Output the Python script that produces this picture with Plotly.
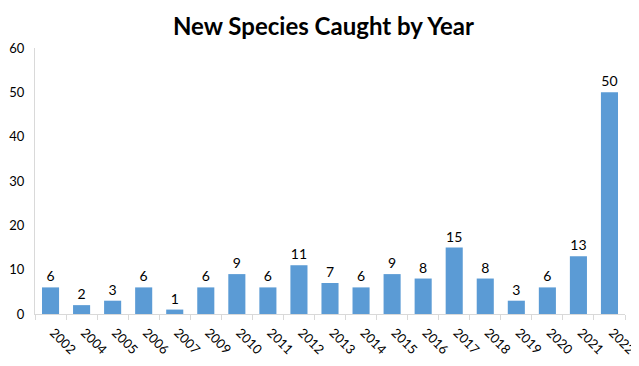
import plotly.graph_objects as go

years = ["2002","2004","2005","2006","2007","2009","2010","2011","2012","2013",
         "2014","2015","2016","2017","2018","2019","2020","2021","2022"]
counts = [6,2,3,6,1,6,9,6,11,7,6,9,8,15,8,3,6,13,50]

# page body has an 8px default margin, so the figure is drawn 8px smaller
fig = go.Figure(go.Bar(
    x=years, y=counts, marker_color="#5B9BD5", marker_line_width=0,
    text=[str(c) for c in counts], textposition="outside",
    textfont=dict(size=14, color="#000000"), cliponaxis=False, width=0.55,
))
fig.update_layout(
    width=631, height=358,
    margin=dict(l=27, r=14, t=40, b=52),
    paper_bgcolor="white", plot_bgcolor="white",
    font=dict(family="Lato, Open Sans, sans-serif", color="#000000"),
    title=dict(text="<b>New Species Caught by Year</b>", x=0.5, xanchor="center",
               yref="container", y=0.947, yanchor="middle",
               font=dict(size=24, color="#000000")),
    showlegend=False,
)
fig.update_xaxes(type="category", tickangle=45, tickfont=dict(size=13),
                 showline=True, linecolor="#D9D9D9", linewidth=1,
                 ticks="outside", tickson="boundaries", ticklen=5, tickcolor="#D9D9D9",
                 showgrid=False, automargin=False, ticklabelshift=3,
                 ticklabelstandoff=5)
fig.update_yaxes(range=[0, 60], dtick=10, tickfont=dict(size=13),
                 showline=True, linecolor="#D9D9D9", linewidth=1,
                 showgrid=False, zeroline=False, ticks="", ticklabelstandoff=7,
                 automargin=False)
fig.write_html("out.html")
